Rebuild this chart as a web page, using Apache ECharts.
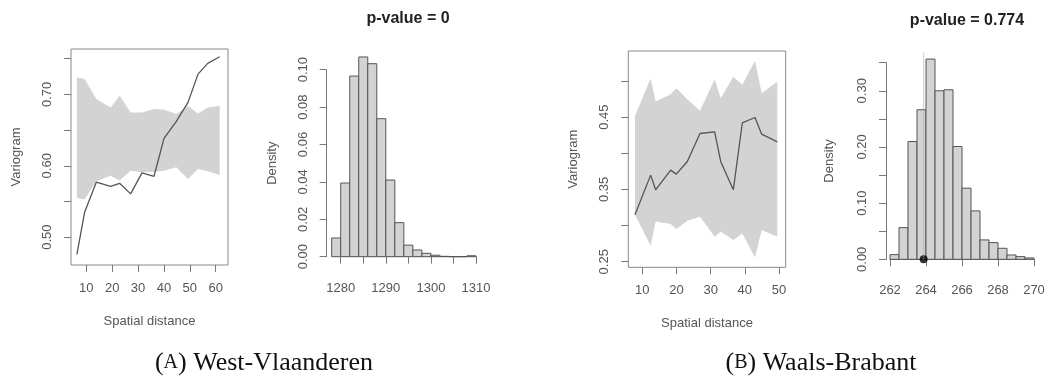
<!DOCTYPE html>
<html>
<head>
<meta charset="utf-8">
<script src="https://cdn.jsdelivr.net/npm/echarts@6/dist/echarts.min.js"></script>
<style>
html,body{margin:0;padding:0;background:#fff;}
#chart{width:1048px;height:378px;}
</style>
</head>
<body>
<div id="chart"></div>
<script>
// ---- Panel A: West-Vlaanderen, variogram ----
const varA_dist  = [6.39, 9.36, 13.87, 19.41, 22.89, 27.14, 31.52, 36.16, 40.03, 44.79, 49.3, 53.17, 56.9, 61.55];
const varA_obs   = [0.476, 0.535, 0.577, 0.571, 0.5755, 0.5606, 0.590, 0.5853, 0.6385, 0.6622, 0.6888, 0.7284, 0.7434, 0.7527];
const varA_upper = [0.7238, 0.7214, 0.6935, 0.6818, 0.6981, 0.6748, 0.6748, 0.6795, 0.6786, 0.6725, 0.6841, 0.6734, 0.6818, 0.6841];
const varA_lower = [0.555, 0.5527, 0.5783, 0.5862, 0.5793, 0.5932, 0.5909, 0.5918, 0.5932, 0.5979, 0.5816, 0.5956, 0.5923, 0.5872];
const varA_xTicks = [10, 20, 30, 40, 50, 60];
const varA_yTicks = [0.50, 0.55, 0.60, 0.65, 0.70, 0.75];
const varA_yLabels = [0.50, 0.60, 0.70];

// ---- Panel A: histogram ----
const histA_breaks  = [1278,1280,1282,1284,1286,1288,1290,1292,1294,1296,1298,1300,1302,1304,1306,1308,1310];
const histA_density = [0.010,0.0394,0.0966,0.1068,0.1032,0.0738,0.041,0.0182,0.0062,0.0036,0.0018,0.0008,0.0002,0,0,0.0005];
const histA_xLabels = [1280, 1290, 1300, 1310];
const histA_title = 'p-value = 0';

// ---- Panel B: Waals-Brabant, variogram ----
const varB_dist  = [7.85, 12.44, 13.9, 18.29, 19.95, 23.17, 26.88, 31.17, 32.93, 36.63, 39.27, 42.98, 44.93, 49.51];
const varB_obs   = [0.315, 0.3698, 0.3495, 0.3767, 0.3712, 0.3887, 0.4274, 0.4297, 0.3887, 0.3495, 0.4422, 0.4495, 0.4265, 0.4159];
const varB_upper = [0.4518, 0.5035, 0.4717, 0.4818, 0.4901, 0.4749, 0.4588, 0.5025, 0.4763, 0.5058, 0.4947, 0.5279, 0.4832, 0.4993];
const varB_lower = [0.315, 0.2721, 0.3058, 0.3021, 0.2952, 0.3067, 0.3122, 0.2846, 0.2919, 0.28, 0.2892, 0.256, 0.2938, 0.2846];
const varB_xTicks = [10, 20, 30, 40, 50];
const varB_yTicks = [0.25, 0.30, 0.35, 0.40, 0.45, 0.50];
const varB_yLabels = [0.25, 0.35, 0.45];

// ---- Panel B: histogram ----
const histB_breaks  = [262,262.5,263,263.5,264,264.5,265,265.5,266,266.5,267,267.5,268,268.5,269,269.5,270];
const histB_density = [0.0083,0.0564,0.2097,0.2662,0.3565,0.300,0.3018,0.2008,0.1266,0.0862,0.0345,0.0297,0.0196,0.0077,0.0048,0.0024];
const histB_yLabels = [0.00, 0.10, 0.20, 0.30];
const histB_observed = 263.87;
const histB_lineTop = 0.368;
const histB_title = 'p-value = 0.774';

const captionA = ['A', 'West-Vlaanderen'];
const captionB = ['B', 'Waals-Brabant'];

const FONT = 'Liberation Sans';
const TXT = '#555';
const AX = '#777';

function histData(breaks, dens) {
  return dens.map((d, i) => [breaks[i], breaks[i + 1], d]);
}
function histItem(params, api) {
  const p0 = api.coord([api.value(0), 0]);
  const p1 = api.coord([api.value(1), api.value(2)]);
  return {
    type: 'rect',
    shape: { x: p0[0], y: p1[1], width: p1[0] - p0[0], height: p0[1] - p1[1] },
    style: { fill: '#d3d3d3', stroke: '#555', lineWidth: 1 }
  };
}
function envelope(dist, upper, lower) {
  return function (params, api) {
    const pts = [];
    for (let i = 0; i < dist.length; i++) pts.push(api.coord([dist[i], upper[i]]));
    for (let i = dist.length - 1; i >= 0; i--) pts.push(api.coord([dist[i], lower[i]]));
    return { type: 'polygon', shape: { points: pts }, style: { fill: '#d3d3d3' } };
  };
}
function pairs(xs, ys) { return xs.map((x, i) => [x, ys[i]]); }

const labelStyle = { color: TXT, fontFamily: FONT, fontSize: 13 };
const nameStyle = { color: TXT, fontFamily: FONT, fontSize: 13 };

function boxX(idx, min, max, ticks, name) {
  return {
    gridIndex: idx, type: 'value', min: min, max: max,
    axisLine: { show: false }, splitLine: { show: false },
    axisTick: { show: true, inside: false, length: 7, customValues: ticks, lineStyle: { color: AX } },
    axisLabel: Object.assign({ customValues: ticks, margin: 17, formatter: v => String(v) }, labelStyle),
    name: name, nameLocation: 'middle', nameGap: 50, nameTextStyle: nameStyle
  };
}
function boxY(idx, min, max, ticks, labels, name) {
  return {
    gridIndex: idx, type: 'value', min: min, max: max,
    axisLine: { show: false }, splitLine: { show: false },
    axisTick: { show: true, inside: false, length: 7, customValues: ticks, lineStyle: { color: AX } },
    axisLabel: Object.assign({ customValues: labels, margin: 17, rotate: 90, formatter: v => Number(v).toFixed(2) }, labelStyle),
    name: name, nameLocation: 'middle', nameGap: 48, nameRotate: 90, nameTextStyle: nameStyle
  };
}
function caption(c, x) {
  return {
    text: '{p|(}{s|' + c[0] + '}{p|) ' + c[1] + '}', left: x, top: 345, textAlign: 'center',
    textStyle: { fontWeight: 'normal', rich: {
      p: { fontFamily: 'Liberation Serif', fontSize: 26, fontWeight: 'normal', color: '#111' },
      s: { fontFamily: 'Liberation Serif', fontSize: 20, fontWeight: 'normal', color: '#111' } } }
  };
}

const option = {
  animation: false,
  backgroundColor: '#fff',
  textStyle: { fontFamily: FONT },
  title: [
    { text: histA_title, left: 403, top: 6, textAlign: 'center',
      textStyle: { fontFamily: FONT, fontSize: 16, fontWeight: 'bold', color: '#222' } },
    { text: histB_title, left: 962, top: 8, textAlign: 'center',
      textStyle: { fontFamily: FONT, fontSize: 16, fontWeight: 'bold', color: '#222' } },
    caption(captionA, 259),
    caption(captionB, 816)
  ],
  grid: [
    { left: 71, top: 49, width: 157, height: 216, show: true, borderColor: '#888', borderWidth: 1, backgroundColor: 'transparent', outerBoundsMode: 'none' },
    { left: 340.7, top: 69.7, width: 135.3, height: 187, outerBoundsMode: 'none' },
    { left: 628.3, top: 51, width: 157.4, height: 216.3, show: true, borderColor: '#888', borderWidth: 1, backgroundColor: 'transparent', outerBoundsMode: 'none' },
    { left: 890, top: 62.7, width: 144, height: 196.6, outerBoundsMode: 'none' }
  ],
  xAxis: [
    boxX(0, 4.1, 64.75, varA_xTicks, 'Spatial distance'),
    {
      gridIndex: 1, type: 'value', min: 1280, max: 1310, interval: 5, offset: 8,
      axisLine: { show: true, lineStyle: { color: AX } }, splitLine: { show: false },
      axisTick: { show: true, length: 7, lineStyle: { color: AX } },
      axisLabel: Object.assign({ customValues: histA_xLabels, margin: 17, formatter: v => String(v) }, labelStyle)
    },
    boxX(2, 5.9, 51.96, varB_xTicks, 'Spatial distance'),
    {
      gridIndex: 3, type: 'value', min: 262, max: 270, interval: 2, offset: 8,
      axisLine: { show: true, lineStyle: { color: AX } }, splitLine: { show: false },
      axisTick: { show: true, length: 7, lineStyle: { color: AX } },
      axisLabel: Object.assign({ margin: 17, formatter: v => String(v) }, labelStyle)
    }
  ],
  yAxis: [
    boxY(0, 0.461, 0.7636, varA_yTicks, varA_yLabels, 'Variogram'),
    {
      gridIndex: 1, type: 'value', min: 0, max: 0.10, interval: 0.02, offset: 14,
      axisLine: { show: true, lineStyle: { color: AX } }, splitLine: { show: false },
      axisTick: { show: true, length: 7, lineStyle: { color: AX } },
      axisLabel: Object.assign({ margin: 17, rotate: 90, formatter: v => Number(v).toFixed(2) }, labelStyle),
      name: 'Density', nameLocation: 'middle', nameGap: 48, nameRotate: 90, nameTextStyle: nameStyle
    },
    boxY(2, 0.2423, 0.5415, varB_yTicks, varB_yLabels, 'Variogram'),
    {
      gridIndex: 3, type: 'value', min: 0, max: 0.35, interval: 0.05, offset: 4,
      axisLine: { show: true, lineStyle: { color: AX } }, splitLine: { show: false },
      axisTick: { show: true, length: 7, lineStyle: { color: AX } },
      axisLabel: Object.assign({ customValues: histB_yLabels, margin: 17, rotate: 90, formatter: v => Number(v).toFixed(2) }, labelStyle),
      name: 'Density', nameLocation: 'middle', nameGap: 50, nameRotate: 90, nameTextStyle: nameStyle
    }
  ],
  series: [
    { type: 'custom', xAxisIndex: 0, yAxisIndex: 0, data: [[varA_dist[0], varA_upper[0]]], clip: false,
      renderItem: envelope(varA_dist, varA_upper, varA_lower), silent: true },
    { type: 'line', xAxisIndex: 0, yAxisIndex: 0, data: pairs(varA_dist, varA_obs), symbol: 'none',
      lineStyle: { color: '#555', width: 1.3 }, silent: true },
    { type: 'custom', xAxisIndex: 1, yAxisIndex: 1, data: histData(histA_breaks, histA_density), clip: false,
      encode: { x: [0, 1], y: 2 }, renderItem: histItem, silent: true },
    { type: 'custom', xAxisIndex: 2, yAxisIndex: 2, data: [[varB_dist[0], varB_upper[0]]], clip: false,
      renderItem: envelope(varB_dist, varB_upper, varB_lower), silent: true },
    { type: 'line', xAxisIndex: 2, yAxisIndex: 2, data: pairs(varB_dist, varB_obs), symbol: 'none',
      lineStyle: { color: '#555', width: 1.3 }, silent: true },
    { type: 'custom', xAxisIndex: 3, yAxisIndex: 3, data: histData(histB_breaks, histB_density), clip: false,
      encode: { x: [0, 1], y: 2 }, renderItem: histItem, silent: true },
    { type: 'line', xAxisIndex: 3, yAxisIndex: 3, data: [[histB_observed, 0], [histB_observed, histB_lineTop]],
      symbol: 'none', clip: false, lineStyle: { color: '#999', width: 1, type: 'dotted' }, silent: true },
    { type: 'scatter', xAxisIndex: 3, yAxisIndex: 3, data: [[histB_observed, 0]], symbolSize: 8, clip: false,
      itemStyle: { color: '#000' }, silent: true }
  ]
};

const chart = echarts.init(document.getElementById('chart'), null, { renderer: 'canvas' });
chart.setOption(option);
</script>
</body>
</html>
